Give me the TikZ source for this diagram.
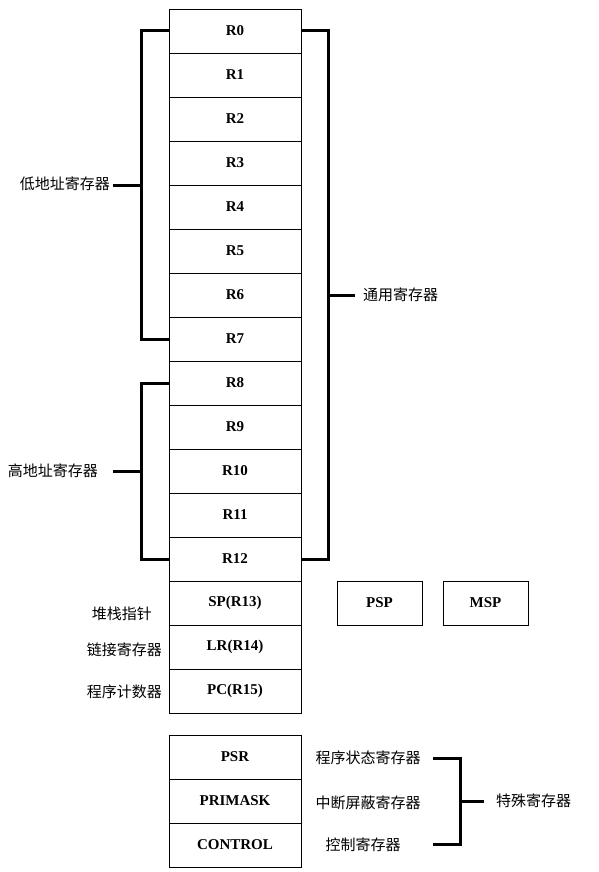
\documentclass[tikz,border=0pt]{standalone}
\usepackage{fontspec}
\setmainfont{Liberation Serif}
\newfontfamily\cjk{Noto Sans CJK SC}
\usetikzlibrary{positioning,calc}

\tikzset{
  reg/.style={draw, line width=0.9pt, outer sep=0pt, inner sep=0pt,
    minimum width=132pt, minimum height=44pt,
    font=\fontsize{15}{18}\selectfont\bfseries},
  sreg/.style={reg, minimum width=85pt},
  lbl/.style={font=\fontsize{15}{18}\selectfont\cjk, inner sep=0pt},
  brace/.style={line width=3pt}
}

\begin{document}
\begin{tikzpicture}[x=1pt,y=-1pt]
  \useasboundingbox (0,0) rectangle (599,872);

  % general registers
  \node[reg] (r0) at (235,31) {R0};
  \foreach \i [count=\j from 0] in {1,...,12}
    \node[reg, below=0pt of r\j] (r\i) {R\i};
  \node[reg, below=0pt of r12] (sp) {SP(R13)};
  \node[reg, below=0pt of sp] (lr) {LR(R14)};
  \node[reg, below=0pt of lr] (pc) {PC(R15)};

  \node[sreg, right=36pt of sp] (psp) {PSP};
  \node[sreg, right=21pt of psp] (msp) {MSP};

  % special registers
  \node[reg, below=22pt of pc] (psr) {PSR};
  \node[reg, below=0pt of psr] (primask) {PRIMASK};
  \node[reg, below=0pt of primask] (control) {CONTROL};

  % left labels
  \node[lbl, anchor=east] (splbl) at (152,614) {堆栈指针};
  \node[lbl, anchor=east] (lrlbl) at (162,650) {链接寄存器};
  \node[lbl, anchor=east] (pclbl) at (162,692) {程序计数器};

  % brackets
  \draw[brace] (r0.west) -- ++(-28,0) coordinate (lowtop) |- (r7.west);
  \coordinate (lowmid) at ($(lowtop)!.5!(lowtop|-r7.west)$);
  \node[lbl, anchor=east] (lowlbl) at (110,184) {低地址寄存器};
  \draw[brace] (lowmid) -- (lowmid-|113,0);

  \draw[brace] (r8.west) -- ++(-28,0) coordinate (hightop) |- (r12.west);
  \coordinate (highmid) at ($(hightop)!.5!(hightop|-r12.west)$);
  \node[lbl, anchor=east] (highlbl) at (98,471) {高地址寄存器};
  \draw[brace] (highmid) -- (highmid-|113,0);

  \draw[brace] (r0.east) -- ++(27,0) coordinate (gentop) |- (r12.east);
  \coordinate (genmid) at ($(gentop)!.5!(gentop|-r12.east)$);
  \node[lbl, anchor=west] (genlbl) at (363,295) {通用寄存器};
  \draw[brace] (genmid) -- (genmid-|355,0);

  % special register labels
  \node[lbl] (psrlbl) at (368,758) {程序状态寄存器};
  \node[lbl] (pmlbl) at (368,803) {中断屏蔽寄存器};
  \node[lbl] (ctllbl) at (363,845) {控制寄存器};
  \coordinate (spctop) at (433,758);
  \coordinate (spcbot) at (433,844);
  \draw[brace] (spctop) -- ++(27,0) coordinate (spcx) |- (spcbot);
  \coordinate (spcmid) at ($(spcx)!.5!(spcx|-spcbot)$);
  \node[lbl, anchor=west] (spclbl) at (496,801) {特殊寄存器};
  \draw[brace] (spcmid) -- (spcmid-|484,0);
\end{tikzpicture}
\end{document}
